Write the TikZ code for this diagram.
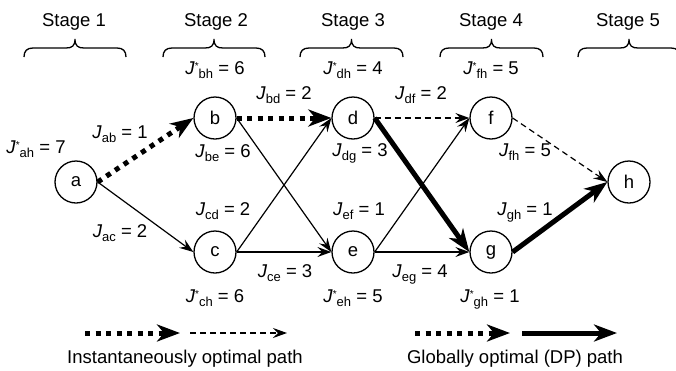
\documentclass[tikz,border=0pt]{standalone}
\usepackage{fontspec}
\setmainfont{Liberation Sans}
\usetikzlibrary{arrows.meta}
\newcommand{\sbx}[1]{\raisebox{-4.5pt}{\fontsize{13}{13}\selectfont #1}}
\newcommand{\Jx}[2]{\textit{J}\sbx{#1} = #2}
\newcommand{\Js}[2]{\textit{J}\raisebox{5pt}{\fontsize{10}{10}\selectfont *}\sbx{#1} = #2}
\begin{document}
\begin{tikzpicture}[x=1pt,y=-1pt,
  every node/.style={font=\fontsize{18.5}{20}\selectfont},
  st/.style={circle,draw,line width=1.3pt,minimum size=42pt,inner sep=0pt},
  lbl/.style={anchor=base,inner sep=0pt},
  thinedge/.style={line width=1.2pt,-{Stealth[length=14pt,width=10pt,inset=5pt]}},
  dashedge/.style={thinedge,dash pattern=on 6pt off 4pt},
  dotedge/.style={line width=5pt,dash pattern=on 5pt off 5.5pt,-{Stealth[length=23pt,width=17pt,inset=7pt]}},
  dpedge/.style={line width=5pt,-{Stealth[length=23pt,width=17pt,inset=7pt]}},
  brc/.style={line width=1.3pt}
]
\useasboundingbox (0,0) rectangle (676,370);
% stages
\foreach \x/\n in {74/1,216/2,353/3,491/4,628/5}
  \node[lbl] (s\n) at (\x,26) {Stage \n};
\foreach \l/\r in {24/126,163/265,300/403,440/543,578/680}{
  \pgfmathsetmacro{\m}{(\l+\r)/2}
  \draw[brc] (\l,57) .. controls (\l,51) and (\l+3,48) .. (\l+9,48)
    -- (\m-9,48) .. controls (\m-3,48) and (\m,46) .. (\m,39)
    .. controls (\m,46) and (\m+3,48) .. (\m+9,48)
    -- (\r-9,48) .. controls (\r-3,48) and (\r,51) .. (\r,57);
}
% nodes
\node[st] (a) at (76,182) {a};
\node[st] (b) at (215,118) {b};
\node[st] (c) at (215,252) {c};
\node[st] (d) at (353,118) {d};
\node[st] (e) at (353,252) {e};
\node[st] (f) at (491,118) {f};
\node[st] (g) at (491,252) {g};
\node[st] (h) at (629,182) {h};
% edges
\draw[dotedge] (a.east) -- (b.west);
\draw[thinedge] (a.east) -- (c.west);
\draw[dotedge] (b.east) -- (d.west);
\draw[thinedge] (b.east) -- (e.west);
\draw[thinedge] (c.east) -- (d.west);
\draw[thinedge] (c.east) -- (e.west);
\draw[dashedge] (d.east) -- (f.west);
\draw[dpedge] (d.east) -- (g.west);
\draw[thinedge] (e.east) -- (f.west);
\draw[thinedge] (e.east) -- (g.west);
\draw[dashedge] (f.east) -- (h.west);
\draw[dpedge] (g.east) -- (h.west);
% labels
\node[lbl] (lah) at (36,153) {\Js{ah}{7}};
\node[lbl] (lbh) at (215,74) {\Js{bh}{6}};
\node[lbl] (ldh) at (353,74) {\Js{dh}{4}};
\node[lbl] (lfh) at (491,74) {\Js{fh}{5}};
\node[lbl] (lch) at (215,302) {\Js{ch}{6}};
\node[lbl] (leh) at (353,302) {\Js{eh}{5}};
\node[lbl] (lgh) at (490,302) {\Js{gh}{1}};
\node[lbl] (lab) at (120,138) {\Jx{ab}{1}};
\node[lbl] (lac) at (120,237) {\Jx{ac}{2}};
\node[lbl] (lbd) at (284,99) {\Jx{bd}{2}};
\node[lbl] (ldf) at (421,99) {\Jx{df}{2}};
\node[lbl] (lbe) at (223,157) {\Jx{be}{6}};
\node[lbl] (ldg) at (360,156) {\Jx{dg}{3}};
\node[lbl] (lfhe) at (525,156) {\Jx{fh}{5}};
\node[lbl] (lcd) at (223,215) {\Jx{cd}{2}};
\node[lbl] (lef) at (359,215) {\Jx{ef}{1}};
\node[lbl] (lghe) at (525,215) {\Jx{gh}{1}};
\node[lbl] (lce) at (285,277) {\Jx{ce}{3}};
\node[lbl] (leg) at (420,277) {\Jx{eg}{4}};
% legend
\coordinate (p1) at (85,333);
\coordinate (p2) at (180,333);
\coordinate (p3) at (190,333);
\coordinate (p4) at (287,333);
\coordinate (q1) at (415,333);
\coordinate (q2) at (510,333);
\coordinate (q3) at (522,333);
\coordinate (q4) at (617,333);
\draw[dotedge] (p1) -- (p2);
\draw[dashedge] (p3) -- (p4);
\draw[dotedge] (q1) -- (q2);
\draw[dpedge] (q3) -- (q4);
\node[lbl] (t1) at (185,363) {Instantaneously optimal path};
\node[lbl] (t2) at (515,363) {Globally optimal (DP) path};
\end{tikzpicture}
\end{document}
